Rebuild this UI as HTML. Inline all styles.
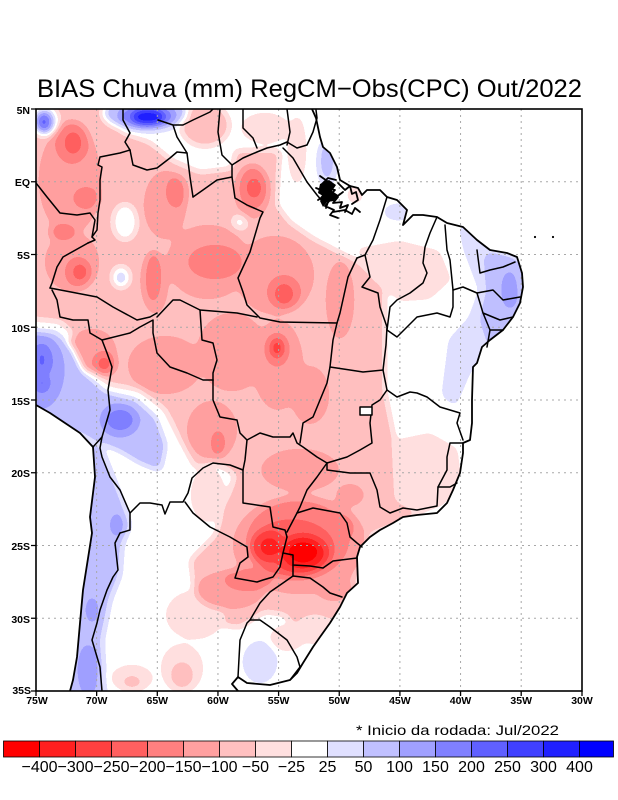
<!DOCTYPE html>
<html><head><meta charset="utf-8"><style>
html,body{margin:0;padding:0;background:#fff;}
svg{display:block;}
text{font-family:"Liberation Sans",sans-serif;fill:#000;}
</style></head><body>
<svg width="618" height="800" viewBox="0 0 618 800" xmlns="http://www.w3.org/2000/svg">
<defs>
<filter id="f" x="0" y="0" width="618" height="800" filterUnits="userSpaceOnUse" color-interpolation-filters="sRGB">
<feGaussianBlur stdDeviation="4"/>
<feComponentTransfer>
<feFuncR type="discrete" tableValues="1 1 1 1 1 1 1 1 1 .878 .75 .627 .5 .376 .25 .125 0"/>
<feFuncG type="discrete" tableValues="0 .125 .25 .376 .5 .627 .75 .878 1 .878 .75 .627 .5 .376 .25 .125 0"/>
<feFuncB type="discrete" tableValues="0 .125 .25 .376 .5 .627 .75 .878 1 1 1 1 1 1 1 1 1"/>
</feComponentTransfer>
</filter>
<clipPath id="land"><path d="M30,100 L314,100 L316,118 L320,137 L323,147 L330,153 L337,167 L340,180 L350,186 L358,188 L362,195 L367,190 L380,190 L387,197 L397,200 L407,210 L403,225 L413,215 L423,215 L437,217 L447,223 L463,227 L477,240 L490,250 L507,253 L517,257 L522,273 L523,287 L520,303 L513,317 L503,330 L490,340 L482,347 L477,363 L473,367 L472,400 L472,423 L470,440 L463,443 L463,453 L460,473 L453,490 L447,503 L437,513 L417,515 L403,517 L393,523 L380,530 L370,537 L360,547 L357,557 L358,583 L347,593 L340,607 L330,623 L320,637 L313,647 L303,663 L297,673 L290,680 L270,685 L247,683 L238,677 L232,684 L240,700 L70,700 L70,691 L73,680 L77,657 L80,623 L83,590 L92,533 L90,517 L95,477 L93,447 L80,433 L50,413 L36,405 L30,403 Z"/></clipPath>
<clipPath id="frame"><rect x="36" y="109" width="546" height="582"/></clipPath>
</defs>

<g clip-path="url(#frame)">
<g clip-path="url(#land)">
<g filter="url(#f)">
<rect x="0" y="0" width="618" height="800" fill="#808080"/>
<path fill="#626262" d="M20,100 L118,100 L122,132 L150,142 L172,160 L200,172 L232,168 L235,150 L280,150 L277,205 L290,222 L313,238 L340,252 L360,262 L385,290 L385,350 L385,390 L395,440 L440,470 L445,500 L420,515 L370,535 L357,555 L358,585 L335,620 L305,640 L285,615 L265,612 L240,628 L215,625 L195,600 L190,560 L215,535 L225,505 L235,475 L215,462 L195,468 L180,440 L165,410 L140,390 L110,385 L92,370 L80,340 L60,322 L20,318 Z"/>
<path fill="#717171" d="M355,248 L400,240 L440,250 L452,280 L430,300 L400,302 L385,290 Z"/>
<path fill="#717171" d="M392,440 L430,432 L458,448 L462,480 L445,505 L420,515 L395,500 Z"/>
<ellipse cx="205" cy="125" rx="25" ry="22" fill="#626262"/>
<ellipse cx="265" cy="128" rx="25" ry="16" fill="#717171"/>
<ellipse cx="297" cy="150" rx="10" ry="35" fill="#717171"/>
<ellipse cx="208" cy="495" rx="18" ry="28" fill="#717171"/>
<ellipse cx="195" cy="615" rx="30" ry="25" fill="#717171"/>
<ellipse cx="182" cy="668" rx="22" ry="25" fill="#717171"/>
<ellipse cx="182" cy="675" rx="12" ry="14" fill="#626262"/>
<ellipse cx="132" cy="678" rx="22" ry="14" fill="#717171"/>
<ellipse cx="132" cy="682" rx="10" ry="7" fill="#626262"/>
<ellipse cx="287" cy="638" rx="18" ry="14" fill="#717171"/>
<ellipse cx="315" cy="630" rx="20" ry="15" fill="#717171"/>
<ellipse cx="355" cy="195" rx="7" ry="8" fill="#6a6a6a"/>
<ellipse cx="125" cy="222" rx="12" ry="18" fill="#808080"/>
<ellipse cx="121" cy="277" rx="9" ry="11" fill="#808080"/>
<ellipse cx="240" cy="222" rx="7" ry="7" fill="#808080"/>
<g fill="#535353">
<ellipse cx="70" cy="180" rx="32" ry="55"/>
<ellipse cx="72" cy="262" rx="28" ry="30"/>
<ellipse cx="165" cy="205" rx="22" ry="35"/>
<ellipse cx="208" cy="262" rx="42" ry="38"/>
<ellipse cx="155" cy="283" rx="14" ry="32"/>
<ellipse cx="275" cy="275" rx="40" ry="40"/>
<ellipse cx="252" cy="192" rx="18" ry="28"/>
<ellipse cx="92" cy="350" rx="25" ry="22"/>
<ellipse cx="165" cy="365" rx="38" ry="30"/>
<ellipse cx="232" cy="352" rx="36" ry="40"/>
<ellipse cx="278" cy="365" rx="26" ry="46"/>
<ellipse cx="212" cy="430" rx="26" ry="30"/>
<ellipse cx="310" cy="395" rx="20" ry="30"/>
<ellipse cx="300" cy="470" rx="40" ry="22"/>
<ellipse cx="300" cy="545" rx="68" ry="50"/>
<ellipse cx="340" cy="300" rx="15" ry="40"/>
<ellipse cx="335" cy="590" rx="20" ry="12"/>
<ellipse cx="230" cy="590" rx="35" ry="20"/>
<ellipse cx="350" cy="495" rx="15" ry="12"/>
</g>
<g fill="#444444">
<ellipse cx="72" cy="143" rx="18" ry="22"/>
<ellipse cx="86" cy="198" rx="14" ry="12"/>
<ellipse cx="63" cy="232" rx="14" ry="9"/>
<ellipse cx="78" cy="272" rx="14" ry="16"/>
<ellipse cx="153" cy="277" rx="9" ry="26"/>
<ellipse cx="176" cy="192" rx="11" ry="17"/>
<ellipse cx="215" cy="262" rx="28" ry="18"/>
<ellipse cx="253" cy="188" rx="15" ry="22"/>
<ellipse cx="284" cy="292" rx="18" ry="18"/>
<ellipse cx="277" cy="350" rx="13" ry="18"/>
<ellipse cx="104" cy="363" rx="13" ry="13"/>
<ellipse cx="218" cy="443" rx="8" ry="14"/>
<ellipse cx="298" cy="540" rx="52" ry="40"/>
<ellipse cx="248" cy="580" rx="25" ry="12"/>
<ellipse cx="340" cy="528" rx="15" ry="15"/>
</g>
<g fill="#303030">
<ellipse cx="73" cy="143" rx="8" ry="11"/>
<ellipse cx="80" cy="272" rx="7" ry="8"/>
<ellipse cx="254" cy="188" rx="7" ry="10"/>
<ellipse cx="284" cy="294" rx="9" ry="10"/>
<ellipse cx="104" cy="364" rx="6" ry="7"/>
<ellipse cx="292" cy="548" rx="42" ry="28"/>
</g>
<g fill="#202020">
<ellipse cx="277" cy="348" rx="6" ry="9"/>
<ellipse cx="268" cy="546" rx="15" ry="14"/>
<ellipse cx="303" cy="555" rx="26" ry="18"/>
</g>
<g fill="#0a0a0a">
<ellipse cx="303" cy="552" rx="18" ry="14"/>
<ellipse cx="270" cy="547" rx="6" ry="6"/>
</g>
<ellipse cx="145" cy="113" rx="42" ry="18" fill="#9e9e9e"/>
<ellipse cx="147" cy="116" rx="28" ry="11" fill="#bcbcbc"/>
<ellipse cx="148" cy="117" rx="16" ry="7" fill="#ececec"/>
<ellipse cx="45" cy="121" rx="13" ry="15" fill="#8f8f8f"/>
<ellipse cx="44" cy="122" rx="8" ry="10" fill="#bcbcbc"/>
<ellipse cx="44" cy="122" rx="4" ry="6" fill="#d0d0d0"/>
<ellipse cx="121" cy="278" rx="5" ry="6" fill="#999999"/>
<ellipse cx="327" cy="163" rx="9" ry="24" fill="#939393"/>
<ellipse cx="327" cy="160" rx="5" ry="16" fill="#a4a4a4"/>
<ellipse cx="398" cy="212" rx="14" ry="8" fill="#8f8f8f"/>
<path fill="#939393" d="M460,225 L500,240 L528,262 L528,320 L500,345 L470,370 L455,405 L443,395 L450,340 L470,318 L480,290 L465,250 Z"/>
<path fill="#a0a0a0" d="M487,255 L516,262 L524,300 L512,330 L492,347 L483,320 L489,290 Z"/>
<ellipse cx="510" cy="290" rx="7" ry="18" fill="#aeaeae"/>
<path fill="#a3a3a3" d="M20,330 L55,333 L72,348 L85,375 L105,393 L135,400 L155,418 L165,445 L160,470 L140,462 L120,450 L95,440 L70,428 L20,412 Z"/>
<ellipse cx="40" cy="370" rx="20" ry="35" fill="#b0b0b0"/>
<ellipse cx="120" cy="420" rx="15" ry="12" fill="#bcbcbc"/>
<ellipse cx="42" cy="360" rx="8" ry="14" fill="#c4c4c4"/>
<ellipse cx="42" cy="383" rx="5" ry="7" fill="#cbcbcb"/>
<path fill="#9e9e9e" d="M75,440 L100,445 L110,470 L122,500 L130,525 L122,545 L120,575 L110,600 L102,640 L105,700 L60,700 L72,620 L82,560 L88,500 L85,460 Z"/>
<ellipse cx="88" cy="670" rx="9" ry="25" fill="#b0b0b0"/>
<ellipse cx="117" cy="525" rx="7" ry="12" fill="#acacac"/>
<ellipse cx="92" cy="610" rx="8" ry="15" fill="#a8a8a8"/>
<ellipse cx="260" cy="662" rx="16" ry="20" fill="#939393"/>
</g>
</g>

<g stroke="#a8a8a8" stroke-width="1" stroke-dasharray="2 4" fill="none">
<path d="M96.65,109V691M157.3,109V691M217.95,109V691M278.6,109V691M339.25,109V691M399.9,109V691M460.55,109V691M521.2,109V691"/>
<path d="M36,181.75H582M36,254.5H582M36,327.25H582M36,400H582M36,472.75H582M36,545.5H582M36,618.25H582"/>
</g>

<g stroke="#000" stroke-width="1.5" fill="none" stroke-linejoin="round" stroke-linecap="round">
<path stroke-width="1.8" d="M312,109 L316,118 L320,137 L323,147 L330,153 L337,167 L340,180 L350,186 L358,188 L362,195 L367,190 L380,190 L387,197 L397,200 L407,210 L403,225 L413,215 L423,215 L437,217 L447,223 L463,227 L477,240 L490,250 L507,253 L517,257 L522,273 L523,287 L520,303 L513,317 L503,330 L490,340 L482,347 L477,363 L473,367 L472,400 L472,423 L470,440 L463,443 L463,453 L460,473 L453,490 L447,503 L437,513 L417,515 L403,517 L393,523 L380,530 L370,537 L360,547 L357,557 L358,583 L347,593 L340,607 L330,623 L320,637 L313,647 L303,663 L297,673 L290,680 L270,685 L247,683 L238,677 L232,684 L238,691"/>
<path stroke-width="1.8" d="M36,405 L50,413 L80,433 L93,447 L95,477 L90,517 L92,533 L83,590 L80,623 L77,657 L73,680 L70,691"/>
<path d="M123,109 L123,120 L130,133 L125,142 L130,150"/>
<path d="M130,150 L133,165 L147,170 L157,168 L170,158 L177,152 L187,153 L190,177 L193,197"/>
<path d="M187,153 L177,137 L173,125 L158,120 M173,125 L183,125 L193,120 L210,112 L213,109"/>
<path d="M220,109 L218,132 L222,155 L232,165 L243,158 L257,152 L267,148 L280,145 L287,142 L297,148 L307,145 L313,132 L317,118 L316,110"/>
<path d="M243,109 L243,128 L253,138 L257,148"/>
<path d="M287,109 L290,132 L287,145"/>
<path d="M193,197 L203,190 L217,180 L232,177 L232,165"/>
<path d="M232,177 L235,198 L247,205 L263,212 L260,218 L250,252 L238,278 L243,292 L247,305 L260,318 L280,322 L337,323"/>
<path d="M157,317 L173,300 L180,300 L200,310 L237,313 L257,317"/>
<path d="M130,150 L120,153 L100,157 L98,165 L102,167 L100,180 L100,200 L98,213 L97,230 L92,237 L95,240 L88,243"/>
<path d="M36,183 L47,197 L60,213 L77,215 L90,213 L95,220 L92,237"/>
<path d="M88,243 L63,257 L57,267 L52,283 L50,288"/>
<path d="M50,288 L97,297 L113,307 L137,320 L150,317 L157,313"/>
<path d="M52,290 L57,300 L60,317 L73,320 L88,320 L90,333 L102,340 L107,353 L112,367 L108,390 L110,410 L102,437"/>
<path d="M102,340 L130,333 L140,327 L153,320 L153,333 L157,353 L170,367 L187,373 L203,380 L213,380"/>
<path d="M200,310 L202,340 L213,343 L217,360 L213,373 L213,380"/>
<path d="M213,380 L213,400 L220,417 L237,420 L240,433 L247,440 L245,460 L243,470 L243,503 L270,507 L273,527 L285,530 L287,537"/>
<path d="M130,513 L140,503 L150,503 L162,505 L165,514 L170,502 L183,502 L188,493 L192,478 L203,468 L213,463 L230,465 L243,470"/>
<path d="M185,502 L193,513 L210,527 L230,537 L247,547 L248,557 L240,563 L235,578 L257,582 L263,580 L273,577 L280,567 L283,553 L287,537"/>
<path d="M283,553 L293,555 L293,565 L310,566 L323,568 L333,561 L357,558"/>
<path d="M293,565 L293,576"/>
<path d="M342,597 L330,593 L323,587 L310,578 L293,576 L283,583 L270,592 L260,603 L250,620"/>
<path d="M250,620 L260,620 L270,627 L287,640 L297,657 L300,667 L290,680"/>
<path d="M250,620 L247,623 L240,640 L238,677"/>
<path d="M93,447 L102,437 L100,448 L102,457 L110,477 L120,490 L130,513 L130,530 L120,533 L115,543 L118,570 L113,577 L107,590 L100,610 L97,623 L92,640 L100,667 L102,691"/>
<path d="M247,440 L260,433 L273,437 L290,437 L293,433 L297,443 L303,447 L317,457 L327,463"/>
<path d="M357,258 L348,277 L340,313 L337,323 L333,340 L330,367 L327,383 L320,400 L313,417 L303,423 L300,443"/>
<path d="M330,367 L350,370 L363,372 L383,370"/>
<path d="M387,197 L380,220 L373,240 L365,255 L357,258"/>
<path d="M365,255 L370,277 L362,287 L378,293 L380,307 L387,327 L386,345 L383,370"/>
<path d="M437,217 L430,233 L425,247 L423,263 L427,273 L423,283 L410,293 L397,300 L390,307 L387,330 L397,337 L417,317 L437,313 L450,317 L453,307 L453,290"/>
<path d="M445,225 L447,250 L450,260 L453,290 L463,287 L477,293 L493,290 L503,300 L520,297"/>
<path d="M477,250 L480,273 L490,270 L503,267 L515,262"/>
<path d="M477,293 L483,313 L490,330 L487,347 M483,313 L500,320 L513,317 M490,330 L503,330"/>
<path d="M383,370 L387,390 L380,400 L372,405 L370,423 L372,443 L360,450 L347,457 L327,463"/>
<path d="M387,390 L397,397 L410,392 L417,393 L427,397 L440,407 L450,410 L460,413 L457,423 L463,440"/>
<path d="M463,443 L450,443 L447,457 L447,470 L438,487 L450,487 L457,483"/>
<path d="M327,463 L327,470 L350,473 L370,473 L377,490 L380,507 L390,513 L403,508 L417,510 L437,506 L438,487"/>
<path d="M327,463 L317,477 L307,490 L300,507 L297,513"/>
<path d="M287,532 L297,513 L313,508 L340,513 L347,523 L350,537 L357,543 L362,547"/>
<path d="M283,148 L293,158 L307,182 L317,195 L323,202"/>
<rect x="360" y="407" width="12" height="8" fill="#fff"/>
<path stroke-width="1.8" d="M320,176 L330,183 L325,188 L335,190 L329,196 L338,197 L333,203 L342,202 L340,208 L348,205 L345,212 M316,188 L326,192 L321,198 L330,200 L325,206 L334,210 L330,215 L338,218 M338,183 L345,190 L350,186 L352,194 L356,192 L358,200 L352,204 M333,212 L345,210 L352,214 L355,208 L360,212 M328,202 L326,208 M335,198 L343,192 M318,200 L324,196 M322,184 L328,178 L336,180"/>
</g>
<path fill="#000" d="M320,184 L329,180 L336,185 L332,191 L338,195 L334,201 L327,202 L323,207 L320,201 L323,196 L318,193 Z"/>
</g>
<circle cx="535" cy="237" r="1.1" fill="#000"/>
<circle cx="553" cy="237" r="1.1" fill="#000"/>

<rect x="36" y="109" width="546" height="582" fill="none" stroke="#000" stroke-width="1.6"/>
<g stroke="#000" stroke-width="1.3">
<path d="M31,109H36M31,181.75H36M31,254.5H36M31,327.25H36M31,400H36M31,472.75H36M31,545.5H36M31,618.25H36M31,691H36"/>
<path d="M36,691V696M96.65,691V696M157.3,691V696M217.95,691V696M278.6,691V696M339.25,691V696M399.9,691V696M460.55,691V696M521.2,691V696M582,691V696"/>
</g>

<g font-size="10.5" font-weight="bold" text-anchor="end">
<text x="30" y="114">5N</text>
<text x="30" y="186">EQ</text>
<text x="30" y="259">5S</text>
<text x="30" y="332">10S</text>
<text x="30" y="405">15S</text>
<text x="30" y="477">20S</text>
<text x="30" y="550">25S</text>
<text x="30" y="623">30S</text>
<text x="31" y="694">35S</text>
</g>
<g font-size="10.5" font-weight="bold" text-anchor="middle">
<text x="37" y="704">75W</text>
<text x="96.65" y="704">70W</text>
<text x="157.3" y="704">65W</text>
<text x="217.95" y="704">60W</text>
<text x="278.6" y="704">55W</text>
<text x="339.25" y="704">50W</text>
<text x="399.9" y="704">45W</text>
<text x="460.55" y="704">40W</text>
<text x="521.2" y="704">35W</text>
<text x="582" y="704">30W</text>
</g>

<text x="37" y="97" font-size="25" textLength="545" lengthAdjust="spacingAndGlyphs">BIAS Chuva (mm) RegCM−Obs(CPC) Out/2022</text>
<text x="356" y="735" font-size="14" textLength="203" lengthAdjust="spacingAndGlyphs">* Inicio da rodada: Jul/2022</text>

<g stroke="#000" stroke-width="0.8">
<rect x="3.5" y="741" width="36" height="16" fill="#ff0000"/>
<rect x="39.5" y="741" width="36" height="16" fill="#ff2020"/>
<rect x="75.5" y="741" width="36" height="16" fill="#ff4040"/>
<rect x="111.5" y="741" width="36" height="16" fill="#ff6060"/>
<rect x="147.5" y="741" width="36" height="16" fill="#ff8080"/>
<rect x="183.5" y="741" width="36" height="16" fill="#ffa0a0"/>
<rect x="219.5" y="741" width="36" height="16" fill="#ffc0c0"/>
<rect x="255.5" y="741" width="36" height="16" fill="#ffe0e0"/>
<rect x="291.5" y="741" width="36" height="16" fill="#ffffff"/>
<rect x="327.5" y="741" width="36" height="16" fill="#e0e0ff"/>
<rect x="363.5" y="741" width="36" height="16" fill="#c0c0ff"/>
<rect x="399.5" y="741" width="36" height="16" fill="#a0a0ff"/>
<rect x="435.5" y="741" width="36" height="16" fill="#8080ff"/>
<rect x="471.5" y="741" width="36" height="16" fill="#6060ff"/>
<rect x="507.5" y="741" width="36" height="16" fill="#4040ff"/>
<rect x="543.5" y="741" width="36" height="16" fill="#2020ff"/>
<rect x="579.5" y="741" width="34" height="16" fill="#0000ff"/>
</g>
<g font-size="16" text-anchor="middle">
<text x="39.5" y="772">−400</text>
<text x="75.5" y="772">−300</text>
<text x="111.5" y="772">−250</text>
<text x="147.5" y="772">−200</text>
<text x="183.5" y="772">−150</text>
<text x="219.5" y="772">−100</text>
<text x="255.5" y="772">−50</text>
<text x="291.5" y="772">−25</text>
<text x="327.5" y="772">25</text>
<text x="363.5" y="772">50</text>
<text x="399.5" y="772">100</text>
<text x="435.5" y="772">150</text>
<text x="471.5" y="772">200</text>
<text x="507.5" y="772">250</text>
<text x="543.5" y="772">300</text>
<text x="579.5" y="772">400</text>
</g>
</svg>
</body></html>
